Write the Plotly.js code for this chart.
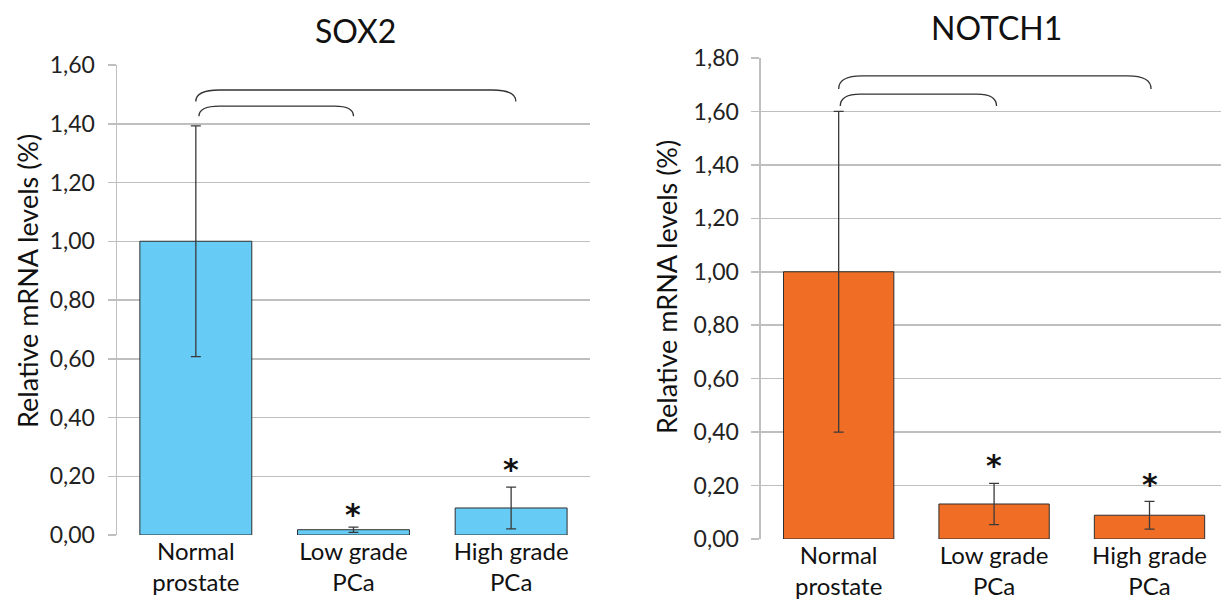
<!DOCTYPE html>
<html>
<head>
<meta charset="utf-8">
<script src="https://cdn.plot.ly/plotly-3.0.1.min.js"></script>
<style>html,body{margin:0;padding:0;background:#fff;}#chart{width:1221px;height:603px;}</style>
</head>
<body>
<div id="chart"></div>
<script>
// ---- data ----
const categories = ["Normal<br>prostate", "Low grade<br>PCa", "High grade<br>PCa"];
const sox2Values = [1.00, 0.018, 0.092];
const sox2Errors = [0.393, 0.009, 0.071];
const notch1Values = [1.00, 0.131, 0.089];
const notch1Errors = [0.60, 0.077, 0.052];
const sox2Ticks = [0, 0.2, 0.4, 0.6, 0.8, 1.0, 1.2, 1.4, 1.6];
const sox2TickText = ["0,00","0,20","0,40","0,60","0,80","1,00","1,20","1,40","1,60"];
const notch1Ticks = [0, 0.2, 0.4, 0.6, 0.8, 1.0, 1.2, 1.4, 1.6, 1.8];
const notch1TickText = ["0,00","0,20","0,40","0,60","0,80","1,00","1,20","1,40","1,60","1,80"];
const sox2Stars = [null, "*", "*"];
const notch1Stars = [null, "*", "*"];

const FONT = "Lato, 'Open Sans', sans-serif";
const GRID = "#bfbfbf";
const ERR = "#3a3a3a";

const traces = [
  {
    type: "bar", x: categories, y: sox2Values, xaxis: "x", yaxis: "y",
    marker: {color: "#66ccf5", line: {color: "#2f2f2f", width: 1}},
    error_y: {type: "data", array: sox2Errors, visible: true, color: ERR, thickness: 1.3, width: 5},
    width: 0.71, showlegend: false, hoverinfo: "skip"
  },
  {
    type: "bar", x: categories, y: notch1Values, xaxis: "x2", yaxis: "y2",
    marker: {color: "#f06d26", line: {color: "#2f2f2f", width: 1}},
    error_y: {type: "data", array: notch1Errors, visible: true, color: ERR, thickness: 1.3, width: 5},
    width: 0.71, showlegend: false, hoverinfo: "skip"
  }
];

const axisCommon = {
  showgrid: true, gridcolor: GRID, gridwidth: 1.5,
  showline: true, linecolor: GRID, linewidth: 1.5,
  ticks: "outside", ticklen: 8, tickcolor: GRID, tickwidth: 1.5,
  ticklabelstandoff: 8,
  tickfont: {family: FONT, size: 23, color: "#222"},
  zeroline: false, fixedrange: true
};

const xCommon = {
  type: "category", showgrid: false, showline: false, ticks: "", fixedrange: true,
  ticklabelstandoff: 0,
  tickfont: {family: FONT, size: 24, color: "#111"}
};

const layout = {
  width: 1221, height: 603,
  margin: {l: 117, r: 0, t: 58, b: 64},
  paper_bgcolor: "#fff", plot_bgcolor: "#fff",
  font: {family: FONT, color: "#111"},
  showlegend: false,
  xaxis: Object.assign({}, xCommon, {domain: [0, 0.4284], range: [-0.5, 2.5], anchor: "y"}),
  yaxis: Object.assign({}, axisCommon, {
    domain: [0.0083, 0.9854], range: [0, 1.6],
    tickvals: sox2Ticks, ticktext: sox2TickText, anchor: "x"
  }),
  xaxis2: Object.assign({}, xCommon, {domain: [0.5833, 1], range: [-0.5, 2.46], anchor: "y2"}),
  yaxis2: Object.assign({}, axisCommon, {
    domain: [0, 1], range: [0, 1.8],
    tickvals: notch1Ticks, ticktext: notch1TickText, anchor: "x2"
  }),
  annotations: [],
  shapes: []
};

// titles
layout.annotations.push(
  {text: "SOX2", xref: "paper", yref: "paper", x: (355-117)/1104, y: 1-(31-58)/481,
   xanchor: "center", yanchor: "middle", showarrow: false, font: {family: FONT, size: 32, color: "#111"}},
  {text: "NOTCH1", xref: "paper", yref: "paper", x: (996-117)/1104, y: 1-(28-58)/481,
   xanchor: "center", yanchor: "middle", showarrow: false, font: {family: FONT, size: 32, color: "#111"}},
  {text: "Relative mRNA levels (%)", xref: "paper", yref: "paper", x: (27-117)/1104, y: 1-(281-58)/481,
   xanchor: "center", yanchor: "middle", textangle: -90, showarrow: false, font: {family: FONT, size: 27, color: "#111"}},
  {text: "Relative mRNA levels (%)", xref: "paper", yref: "paper", x: (666-117)/1104, y: 1-(287-58)/481,
   xanchor: "center", yanchor: "middle", textangle: -90, showarrow: false, font: {family: FONT, size: 27, color: "#111"}}
);

// significance stars
const STARFONT = "'DejaVu Sans', sans-serif";
const sox2StarY = [null, 0.099, 0.255];
const notch1StarY = [null, 0.31, 0.236];
categories.forEach((c, i) => {
  if (sox2Stars[i]) layout.annotations.push({text: "<b>" + sox2Stars[i] + "</b>", x: i, y: sox2StarY[i], xref: "x", yref: "y",
    showarrow: false, yanchor: "middle", yshift: -9, font: {family: STARFONT, size: 30, color: "#111"}});
  if (notch1Stars[i]) layout.annotations.push({text: "<b>" + notch1Stars[i] + "</b>", x: i, y: notch1StarY[i], xref: "x2", yref: "y2",
    showarrow: false, yanchor: "middle", yshift: -9, font: {family: STARFONT, size: 30, color: "#111"}});
});

// brackets
const bl = {color: "#333", width: 1.3};
layout.shapes.push(
  {type: "path", xref: "x", yref: "y", line: bl,
   path: "M 0,1.476 Q 0,1.515 0.15,1.515 L 1.88,1.515 Q 2.03,1.515 2.03,1.476"},
  {type: "path", xref: "x", yref: "y", line: bl,
   path: "M 0.02,1.426 Q 0.02,1.46 0.15,1.46 L 0.88,1.46 Q 1.0,1.46 1.0,1.426"},
  {type: "path", xref: "x2", yref: "y2", line: bl,
   path: "M 0,1.684 Q 0,1.733 0.15,1.733 L 1.86,1.733 Q 2.01,1.733 2.01,1.684"},
  {type: "path", xref: "x2", yref: "y2", line: bl,
   path: "M 0.01,1.62 Q 0.01,1.665 0.14,1.665 L 0.89,1.665 Q 1.016,1.665 1.016,1.62"}
);

Plotly.newPlot("chart", traces, layout, {staticPlot: true, displayModeBar: false});
</script>
</body>
</html>
